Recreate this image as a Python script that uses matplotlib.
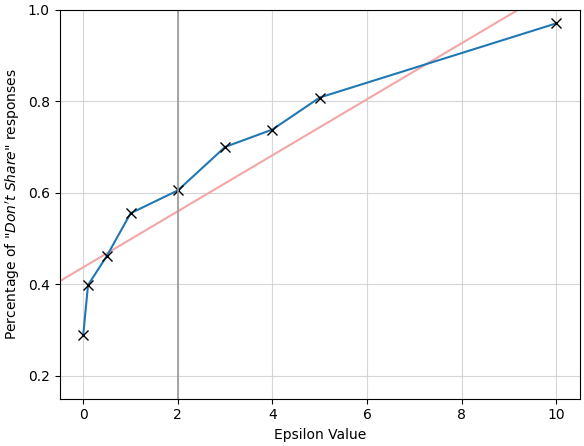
import matplotlib
matplotlib.use('Agg')
import matplotlib.pyplot as plt
import numpy as np

# data
epsilon = [0, 0.1, 0.5, 1, 2, 3, 4, 5, 10]
pct_dont_share = [0.29, 0.398, 0.462, 0.555, 0.605, 0.70, 0.738, 0.808, 0.97]
trend_intercept = 0.437
trend_slope = 0.0612

fig, ax = plt.subplots(figsize=(5.84, 4.46), dpi=100)
xs = np.array([-0.5, 10.5])
ax.plot(xs, trend_intercept + trend_slope * xs, color='#f4a6a6', lw=1.5)
ax.plot(epsilon, pct_dont_share, color='#1f77b4', lw=1.5,
        marker='x', markersize=7, markeredgecolor='black')
ax.axvline(2, color='#999999', lw=1.2)
ax.set_xlim(-0.5, 10.5)
ax.set_ylim(0.15, 1.0)
ax.set_xticks([0, 2, 4, 6, 8, 10])
ax.set_yticks([0.2, 0.4, 0.6, 0.8, 1.0])
ax.grid(alpha=0.8, color='#cccccc')
ax.set_xlabel('Epsilon Value')
ax.set_ylabel("Percentage of \"$Don't\\ Share$\" responses")
plt.tight_layout(pad=0.3)
plt.savefig('out.png', dpi=100)
plt.close()
